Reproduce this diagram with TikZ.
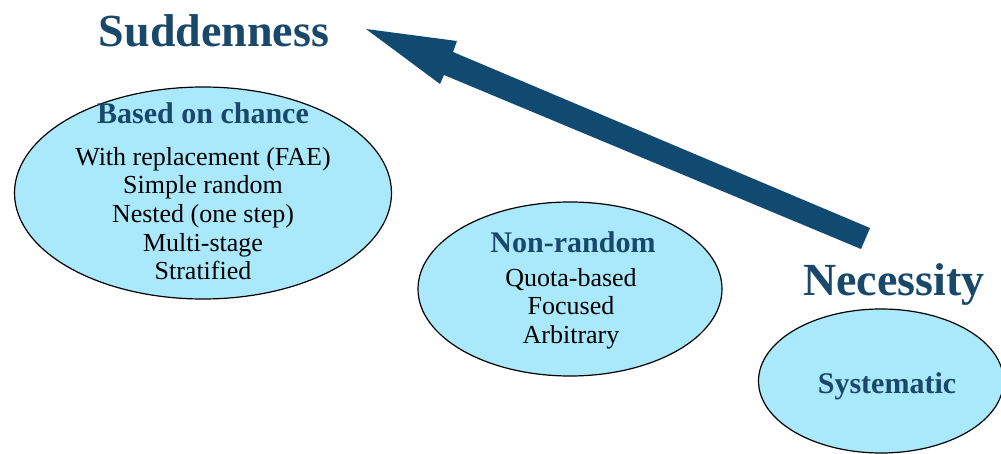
\documentclass[tikz,border=0pt]{standalone}
\usepackage{fontspec}
\setmainfont{Liberation Serif}
\usetikzlibrary{shapes.geometric}
\definecolor{navy}{RGB}{17,74,112}
\definecolor{skyfill}{RGB}{170,232,252}
\definecolor{headtext}{RGB}{24,72,106}
\begin{document}
\begin{tikzpicture}[x=1pt,y=-1pt,
  oval/.style={ellipse, draw=black, line width=1.2pt, fill=skyfill, inner sep=0pt},
  bigtitle/.style={font=\fontsize{46}{50}\selectfont\bfseries, text=headtext, inner sep=0pt, anchor=base},
  ovaltitle/.style={font=\fontsize{30}{33}\selectfont\bfseries, text=headtext, inner sep=0pt, anchor=base},
  items/.style={font=\fontsize{26}{28.6}\selectfont, align=center, inner sep=0pt, text=black, anchor=north},
  bigarrow/.style={fill=navy}]
\useasboundingbox (0,0) rectangle (1001,454);

% sampling families
\node[oval, minimum width=377pt, minimum height=212pt] (chance) at (203,193) {};
\node[oval, minimum width=304pt, minimum height=174pt] (nonrandom) at (570,289) {};
\node[oval, minimum width=245pt, minimum height=144pt] (systematic) at (881,381) {};

\node[ovaltitle] (chanceTitle) at (203,124) {Based on chance};
\node[items] (chanceList) at (203,147) {With replacement (FAE)\\Simple random\\Nested (one step)\\Multi-stage\\Stratified};

\node[ovaltitle] (nonrandomTitle) at (573,253) {Non-random};
\node[items] (nonrandomList) at (571,268) {Quota-based\\Focused\\Arbitrary};

\node[ovaltitle] (systematicTitle) at (887,393) {Systematic};

% axis labels
\node[bigtitle] (sudden) at (214,47) {Suddenness};
\node[bigtitle] (necess) at (894,296) {Necessity};

% direction arrow: shaft corners, head barbs and tip
\coordinate (tailA) at (870,228);
\coordinate (tailB) at (861,249);
\coordinate (neckA) at (453,52);
\coordinate (neckB) at (444,75);
\coordinate (barbA) at (457,41);
\coordinate (barbB) at (440,84);
\coordinate (tip) at (366,29);
\fill[bigarrow] (tailA) -- (neckA) -- (barbA) -- (tip) -- (barbB) -- (neckB) -- (tailB) -- cycle;
\end{tikzpicture}
\end{document}
